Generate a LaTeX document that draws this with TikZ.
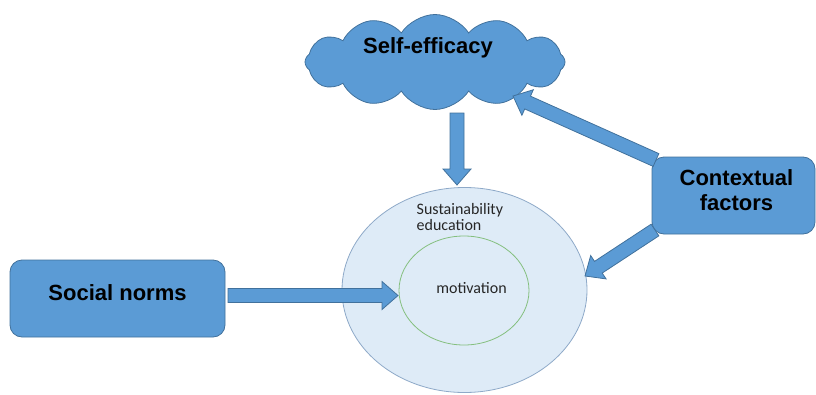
\documentclass[tikz,border=0pt]{standalone}
\usepackage{fontspec}
\setmainfont{Liberation Sans}
\newfontfamily\calibri{Carlito}
\usetikzlibrary{shapes.symbols,shapes.geometric,calc}
\definecolor{boxfill}{HTML}{5B9BD5}
\definecolor{boxline}{HTML}{41719C}
\definecolor{outerfill}{HTML}{DEEBF7}
\definecolor{outerline}{HTML}{8EA9C8}
\definecolor{innerline}{HTML}{84BF7E}
\definecolor{smalltext}{HTML}{262626}

% broad block arrow from tail #1 to tip #2
\newcommand\blockarrow[2]{%
  \coordinate (hb) at ($(#2)!16pt!(#1)$);
  \filldraw[fatarrow] ($(#1)!7pt!90:(#2)$) -- ($(hb)!7pt!90:(#2)$) -- ($(hb)!14pt!90:(#2)$)
    -- (#2) -- ($(hb)!14pt!-90:(#2)$) -- ($(hb)!7pt!-90:(#2)$) -- ($(#1)!7pt!-90:(#2)$) -- cycle;
}

\tikzset{
  fatarrow/.style={fill=boxfill, draw=boxline, line width=0.8pt, line join=miter},
  rbox/.style={rectangle, rounded corners=12pt, fill=boxfill, draw=boxline, line width=0.8pt,
    font=\bfseries\fontsize{22}{25}\selectfont, inner sep=0pt},
  bigtext/.style={font=\bfseries\fontsize{22}{25}\selectfont, inner sep=0pt},
  smalltxt/.style={font=\calibri\fontsize{16}{16}\selectfont, text=smalltext, inner sep=0pt},
}

\begin{document}
\begin{tikzpicture}[x=1pt,y=-1pt]
\useasboundingbox (0,0) rectangle (816,394);

% cloud
\node[cloud, cloud puffs=12, cloud puff arc=115, aspect=2.7, fill=boxfill, draw=boxline,
  line width=0.8pt, minimum width=260pt, minimum height=95pt, inner sep=0pt] (se) at (435,62) {};
\node[bigtext, anchor=base] (setxt) at (428,53) {Self-efficacy};

% nested ellipses
\node[ellipse, fill=outerfill, draw=outerline, line width=0.8pt,
  minimum width=245pt, minimum height=205pt, inner sep=0pt] (edu) at (464.5,290) {};
\node[ellipse, draw=innerline, line width=0.8pt,
  minimum width=130pt, minimum height=109pt, inner sep=0pt] (mot) at (464,290.5) {};
\node[smalltxt, anchor=north west, align=left] (edutxt) at (416.5,203) {Sustainability\\education};
\node[smalltxt, anchor=base] (mottxt) at (471.5,293) {motivation};

% boxes
\node[rbox, minimum width=215pt, minimum height=77pt, text height=16pt, text depth=13pt] (sn) at (117.5,298.5) {Social norms};
\node[rbox, minimum width=163pt, minimum height=77pt, align=center] (cf) at (733.5,195.5) {};
\node[bigtext, align=center, anchor=north] (cftxt) at (736.5,169) {Contextual\\factors};

% arrow end points
\coordinate (d0) at (457,113);
\coordinate (d1) at (457,185);
\coordinate (s0) at (228,295.5);
\coordinate (s1) at (398,295.5);
\coordinate (c0) at (656,160);
\coordinate (c1) at (513,96);
\coordinate (e0) at (655,230);
\coordinate (e1) at (585,276);

\blockarrow{d0}{d1}
\blockarrow{s0}{s1}
\blockarrow{c0}{c1}
\blockarrow{e0}{e1}
\end{tikzpicture}
\end{document}
